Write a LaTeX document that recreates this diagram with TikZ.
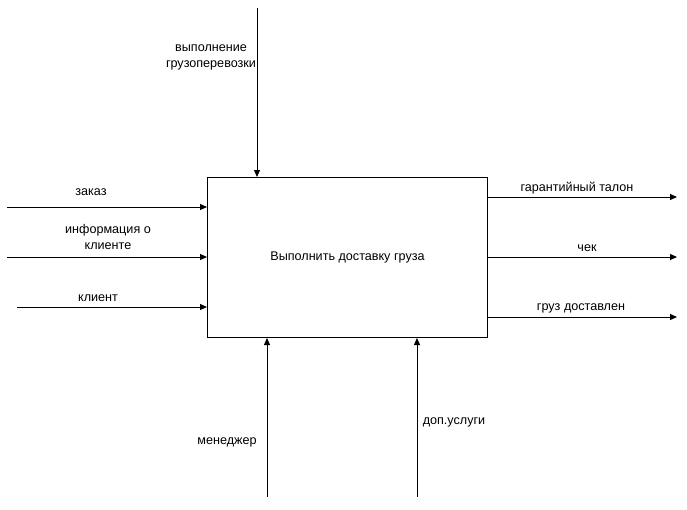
\documentclass[tikz,border=0pt]{standalone}
\usepackage{fontspec}
\setmainfont{Liberation Sans}
\usetikzlibrary{arrows.meta}
\begin{document}
\begin{tikzpicture}[x=1pt,y=-1pt,
  flow/.style={draw=black,line width=1pt,-{Triangle[length=7pt,width=6pt]}},
  lbl/.style={font=\fontsize{12.6}{16}\selectfont,inner sep=0pt,align=center},
  box/.style={draw=black,line width=1pt,fill=white}]
\useasboundingbox (0,0) rectangle (687,509);
\fill[white] (0,0) rectangle (687,509);
\node[box,minimum width=280pt,minimum height=160pt,anchor=north west,font=\fontsize{12.6}{15}\selectfont] (main) at (207,177) {Выполнить доставку груза};
% inputs
\coordinate (i1) at (7,207);
\coordinate (i2) at (7,257);
\coordinate (i3) at (17,307);
\draw[flow] (i1) -- (i1 -| main.west);
\draw[flow] (i2) -- (i2 -| main.west);
\draw[flow] (i3) -- (i3 -| main.west);
\node[lbl] (l1) at (91,192) {заказ};
\node[lbl] (l2) at (108,237) {информация о\\клиенте};
\node[lbl] (l3) at (98,298) {клиент};
% control
\coordinate (c1) at (257,8);
\draw[flow] (c1) -- (c1 |- main.north);
\node[lbl] (lc) at (211,57) {выполнение\\грузоперевозки};
% mechanisms
\coordinate (m1) at (267,497);
\coordinate (m2) at (417,497);
\draw[flow] (m1) -- (m1 |- main.south);
\draw[flow] (m2) -- (m2 |- main.south);
\node[lbl] (lm1) at (227,442) {менеджер};
\node[lbl] (lm2) at (454,422) {доп.услуги};
% outputs
\coordinate (o1) at (677,197);
\coordinate (o2) at (677,257);
\coordinate (o3) at (677,317);
\draw[flow] (o1 -| main.east) -- (o1);
\draw[flow] (o2 -| main.east) -- (o2);
\draw[flow] (o3 -| main.east) -- (o3);
\node[lbl] (lo1) at (577,188) {гарантийный талон};
\node[lbl] (lo2) at (587,248) {чек};
\node[lbl] (lo3) at (581,308) {груз доставлен};
\end{tikzpicture}
\end{document}
